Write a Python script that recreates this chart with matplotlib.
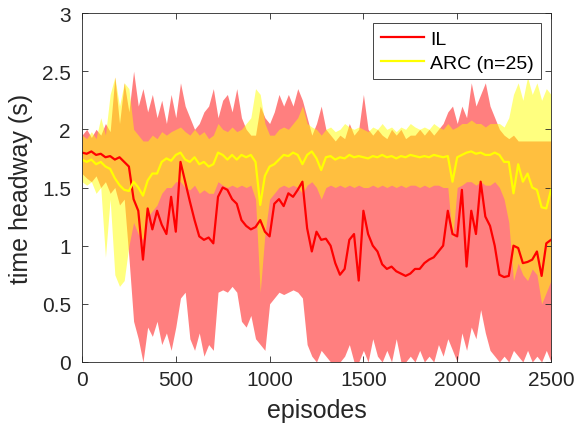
import numpy as np
import matplotlib
matplotlib.use("Agg")
import matplotlib.pyplot as plt

plt.rcParams['font.family'] = ['Liberation Sans', 'DejaVu Sans']

# episodes sampled every 25
episodes = np.arange(0, 2501, 25)

il_mean = [1.80, 1.79, 1.81, 1.78, 1.79, 1.76, 1.77, 1.74, 1.76, 1.72,
           1.68, 1.40, 1.30, 0.88, 1.32, 1.14, 1.30, 1.18, 1.10, 1.42,
           1.12, 1.72, 1.55, 1.38, 1.22, 1.08, 1.05, 1.07, 1.02, 1.42,
           1.50, 1.48, 1.40, 1.36, 1.22, 1.17, 1.14, 1.16, 1.22, 1.12,
           1.08, 1.36, 1.40, 1.34, 1.45, 1.42, 1.48, 1.55, 1.15, 0.95,
           1.12, 1.05, 1.06, 1.00, 0.85, 0.75, 0.80, 1.05, 1.10, 0.70,
           1.30, 1.10, 1.00, 0.95, 0.84, 0.80, 0.82, 0.78, 0.76, 0.74,
           0.76, 0.80, 0.80, 0.85, 0.88, 0.90, 0.95, 1.00, 1.30, 1.10,
           1.08, 1.48, 0.82, 1.30, 1.10, 1.55, 1.25, 1.17, 1.00, 0.75,
           0.73, 0.74, 1.00, 0.98, 0.85, 0.86, 0.88, 0.95, 0.74, 1.02,
           1.05]
il_upper = [1.95, 2.00, 1.93, 2.00, 1.95, 2.05, 1.98, 2.45, 2.05, 2.40,
            2.15, 2.50, 2.20, 2.35, 2.15, 2.30, 2.10, 2.25, 2.05, 2.30,
            2.10, 2.40, 2.20, 2.10, 2.00, 2.05, 2.15, 2.20, 2.35, 2.10,
            2.25, 2.30, 2.15, 2.35, 2.10, 2.00, 1.95, 1.95, 2.20, 2.10,
            2.05, 2.15, 2.30, 2.20, 2.30, 2.20, 2.35, 2.25, 2.10, 1.95,
            2.05, 2.20, 2.00, 1.95, 1.90, 1.95, 1.92, 2.05, 1.95, 2.00,
            2.30, 2.00, 1.95, 2.00, 1.95, 1.92, 2.00, 1.95, 2.00, 1.92,
            1.95, 1.95, 2.00, 1.95, 2.00, 1.95, 2.00, 2.05, 2.15, 2.20,
            2.05, 2.20, 2.10, 2.40, 2.20, 2.30, 2.40, 2.20, 2.10, 2.00,
            1.95, 1.92, 1.95, 1.90, 1.90, 1.90, 1.90, 1.90, 1.90, 1.90,
            1.90]
il_lower = [1.62, 1.58, 1.55, 1.60, 1.50, 1.55, 1.45, 1.50, 1.35, 1.40,
            0.90, 0.35, 0.20, 0.00, 0.30, 0.22, 0.35, 0.15, 0.25, 0.10,
            0.30, 0.55, 0.60, 0.20, 0.10, 0.25, 0.05, 0.15, 0.10, 0.60,
            0.62, 0.60, 0.65, 0.60, 0.35, 0.30, 0.40, 0.20, 0.15, 0.10,
            0.50, 0.55, 0.60, 0.58, 0.60, 0.62, 0.60, 0.55, 0.15, 0.05,
            0.00, 0.10, 0.05, 0.00, 0.00, 0.00, 0.05, 0.15, 0.00, 0.00,
            0.10, 0.00, 0.20, 0.05, 0.00, 0.10, 0.00, 0.20, 0.00, 0.00,
            0.05, 0.00, 0.10, 0.00, 0.05, 0.00, 0.15, 0.05, 0.20, 0.10,
            0.00, 0.25, 0.10, 0.30, 0.20, 0.45, 0.25, 0.10, 0.05, 0.00,
            0.05, 0.00, 0.10, 0.05, 0.00, 0.10, 0.00, 0.05, 0.00, 0.10,
            0.00]

arc_mean = [1.74, 1.72, 1.74, 1.70, 1.72, 1.68, 1.66, 1.58, 1.52, 1.48,
            1.47, 1.55, 1.50, 1.43, 1.56, 1.62, 1.62, 1.72, 1.75, 1.73,
            1.78, 1.80, 1.74, 1.72, 1.76, 1.70, 1.72, 1.68, 1.70, 1.80,
            1.78, 1.74, 1.78, 1.74, 1.78, 1.76, 1.78, 1.72, 1.35, 1.60,
            1.68, 1.70, 1.74, 1.78, 1.77, 1.80, 1.78, 1.70, 1.78, 1.81,
            1.75, 1.65, 1.76, 1.77, 1.74, 1.76, 1.75, 1.78, 1.76, 1.77,
            1.76, 1.75, 1.77, 1.76, 1.78, 1.76, 1.77, 1.75, 1.77, 1.76,
            1.78, 1.77, 1.76, 1.77, 1.76, 1.78, 1.77, 1.76, 1.77, 1.55,
            1.76, 1.78, 1.80, 1.81, 1.79, 1.80, 1.78, 1.78, 1.80, 1.78,
            1.72, 1.72, 1.45, 1.70, 1.55, 1.62, 1.50, 1.48, 1.33, 1.32,
            1.48]
arc_upper = [1.95, 1.92, 1.98, 1.92, 2.10, 1.95, 2.30, 2.45, 2.20, 2.40,
             2.35, 2.00, 1.95, 1.90, 1.90, 1.95, 1.92, 1.98, 1.95, 1.98,
             2.00, 2.02, 1.98, 1.95, 2.00, 1.95, 1.98, 1.92, 1.95, 2.05,
             2.00, 1.98, 2.02, 1.98, 2.00, 2.05, 2.10, 2.35, 2.30, 2.05,
             1.95, 1.95, 2.00, 2.02, 2.00, 2.05, 2.10, 2.20, 2.05, 2.02,
             2.00, 1.95, 2.00, 2.02, 1.98, 2.00, 2.05, 2.02, 2.00, 2.02,
             2.00, 1.98, 2.02, 2.00, 2.05, 2.00, 2.02, 1.98, 2.02, 2.00,
             2.05, 2.02, 2.00, 2.02, 2.00, 2.05, 2.02, 2.00, 2.05, 2.00,
             2.02, 2.05, 2.05, 2.08, 2.05, 2.05, 2.02, 2.05, 2.05, 2.05,
             2.02, 2.10, 2.30, 2.40, 2.25, 2.45, 2.30, 2.40, 2.25, 2.35,
             2.30]
arc_lower = [1.55, 1.52, 1.55, 1.45, 1.50, 0.90, 1.40, 0.75, 0.65, 0.70,
             1.00, 1.20, 1.10, 1.05, 1.25, 1.30, 1.35, 1.45, 1.50, 1.50,
             1.55, 1.55, 1.50, 1.48, 1.52, 1.45, 1.48, 1.45, 1.45, 1.55,
             1.52, 1.50, 1.52, 1.50, 1.52, 1.50, 1.52, 1.40, 0.60, 1.10,
             1.40, 1.45, 1.50, 1.52, 1.50, 1.52, 1.50, 1.45, 1.52, 1.55,
             1.50, 1.40, 1.50, 1.52, 1.50, 1.52, 1.50, 1.52, 1.50, 1.52,
             1.50, 1.50, 1.52, 1.50, 1.52, 1.50, 1.52, 1.50, 1.52, 1.50,
             1.52, 1.52, 1.50, 1.52, 1.50, 1.52, 1.52, 1.50, 1.50, 1.05,
             1.50, 1.52, 1.55, 1.55, 1.52, 1.55, 1.52, 1.52, 1.55, 1.50,
             1.40, 1.20, 0.70, 0.85, 0.75, 0.70, 0.80, 0.75, 0.50, 0.60,
             0.70]

fig = plt.figure(figsize=(5.85, 4.31), dpi=100)
ax = fig.add_axes([82 / 585, 68 / 431, 469 / 585, 349 / 431])

ax.fill_between(episodes, il_lower, il_upper, color='red', alpha=0.5, linewidth=0)
ax.plot(episodes, il_mean, color='red', linewidth=1.6, label='IL')
ax.fill_between(episodes, arc_lower, arc_upper, color='yellow', alpha=0.5, linewidth=0)
ax.plot(episodes, arc_mean, color='yellow', linewidth=1.6, label='ARC (n=25)')

ax.set_xlim(0, 2500)
ax.set_ylim(0, 3)
ax.set_xticks([0, 500, 1000, 1500, 2000, 2500])
ax.set_yticks([0, 0.5, 1, 1.5, 2, 2.5, 3])
ax.set_yticklabels(['0', '0.5', '1', '1.5', '2', '2.5', '3'])

dark = '#262626'
ax.tick_params(direction='in', length=4, width=0.6, colors=dark,
               labelsize=15, top=True, right=True)
ax.tick_params(axis='y', pad=8)
ax.tick_params(axis='x', pad=6)
for s in ax.spines.values():
    s.set_color(dark)
    s.set_linewidth(0.6)

ax.set_xlabel('episodes', fontsize=18, color=dark, labelpad=6)
ax.set_ylabel('time headway (s)', fontsize=18, color=dark, labelpad=6)

leg = ax.legend(loc='upper right', fontsize=14, handlelength=2.2,
                fancybox=False, framealpha=1, borderaxespad=0.5,
                labelspacing=0.3, handletextpad=0.3)
leg.get_frame().set_edgecolor(dark)
leg.get_frame().set_linewidth(0.6)

fig.savefig('out.png', dpi=100)
